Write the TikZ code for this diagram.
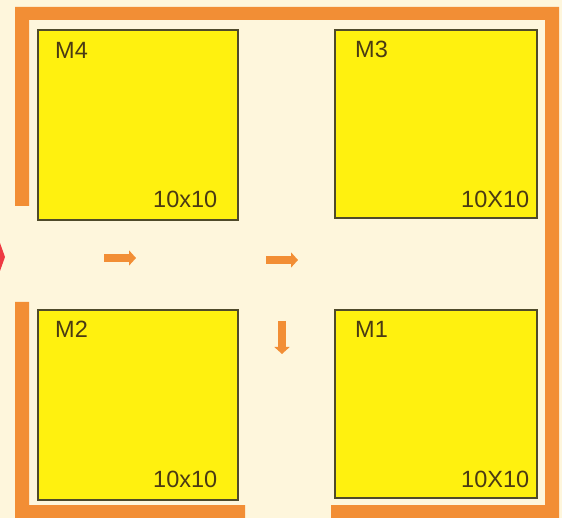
\documentclass[tikz,border=0pt]{standalone}
\usepackage{fontspec}
\setmainfont{Liberation Sans}
\usetikzlibrary{arrows.meta}
\definecolor{bgcream}{HTML}{FEF6DC}
\definecolor{wallorange}{HTML}{F28E35}
\definecolor{machineyellow}{HTML}{FFF10F}
\definecolor{edgedark}{HTML}{4F4A2A}
\definecolor{labeldark}{HTML}{4A3A14}
\definecolor{doorred}{HTML}{EE3A43}
\tikzset{
  x=1pt,y=-1pt,
  wall/.style={fill=wallorange,draw=none},
  machine/.style={draw=edgedark,line width=1.6pt,fill=machineyellow,inner sep=0pt,outer sep=0pt},
  label text/.style={text=labeldark,font=\fontsize{23.5}{25}\selectfont,inner sep=0pt,anchor=base west},
  flow/.style={draw=wallorange,line width=8pt,-{Triangle[length=7pt,width=15pt]}}
}
\begin{document}
\begin{tikzpicture}
\useasboundingbox (0,0) rectangle (562,518);
\fill[bgcream] (0,0) rectangle (562,518);
% walls
\fill[wall] (15,206) -- (15,7) -- (559,7) -- (559,518) -- (331,518) -- (331,505) -- (545,505) -- (545,20) -- (29,20) -- (29,206) -- cycle;
\fill[wall] (15,302) -- (29,302) -- (29,505) -- (245,505) -- (245,518) -- (15,518) -- cycle;
% entrance marker
\fill[doorred] (0,243) -- (5,257) -- (0,271) -- cycle;
% machines
\node[machine,minimum width=200pt,minimum height=190pt] (m4) at (138,125) {};
\node[machine,minimum width=202pt,minimum height=188pt] (m3) at (436,124) {};
\node[machine,minimum width=200pt,minimum height=190pt] (m2) at (138,405) {};
\node[machine,minimum width=202pt,minimum height=188pt] (m1) at (436,404) {};
% labels
\node[label text] (t4) at (55,59) {M4};
\node[label text] (s4) at (153,208) {10x10};
\node[label text] (t3) at (355,58) {M3};
\node[label text] (s3) at (461,208) {10X10};
\node[label text] (t2) at (55,338) {M2};
\node[label text] (s2) at (153,487) {10x10};
\node[label text] (t1) at (355,338) {M1};
\node[label text] (s1) at (461,487) {10X10};
% flow arrows
\coordinate (a1s) at (104,258); \coordinate (a1e) at (136,258);
\coordinate (a2s) at (266,260); \coordinate (a2e) at (298,260);
\coordinate (a3s) at (282,321); \coordinate (a3e) at (282,354);
\draw[flow] (a1s) -- (a1e);
\draw[flow] (a2s) -- (a2e);
\draw[flow] (a3s) -- (a3e);
\end{tikzpicture}
\end{document}
